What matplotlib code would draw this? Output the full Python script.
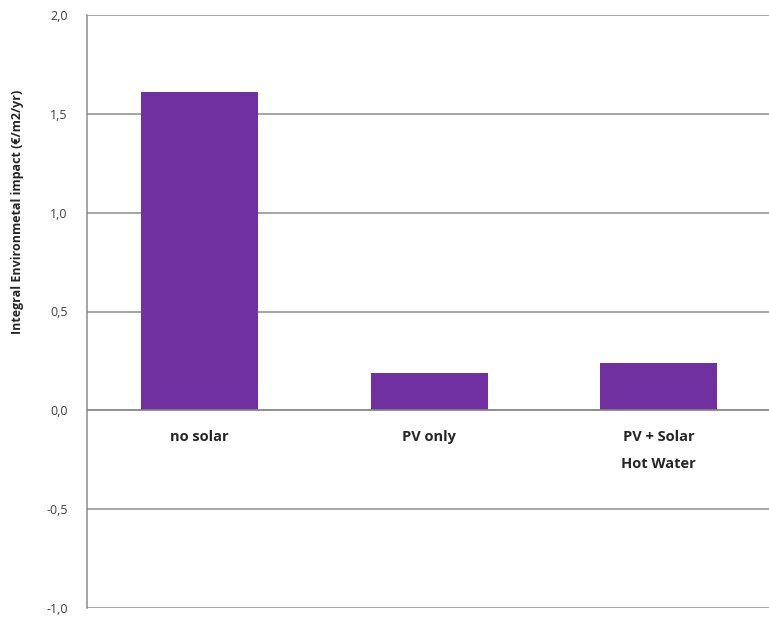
import matplotlib.pyplot as plt
import numpy as np

categories = ["no solar", "PV only", "PV + Solar\nHot Water"]
values = [1.61, 0.19, 0.24]
yticks = [-1.0, -0.5, 0.0, 0.5, 1.0, 1.5, 2.0]

plt.rcParams['font.family'] = ['Open Sans', 'DejaVu Sans']

fig = plt.figure(figsize=(7.69, 6.2), dpi=100)
ax = fig.add_axes([87 / 769, 12 / 620, 1 - 87 / 769, 593 / 620])

x = np.arange(len(categories))
ax.bar(x, values, width=0.51, color='#7030A0', zorder=3)

ax.set_ylim(-1.0, 2.0)
ax.set_xlim(-0.49, 2.48)
ax.set_yticks(yticks)
ax.set_yticklabels([f"{t:.1f}".replace('.', ',') for t in yticks],
                   fontsize=9, color='#404040')
ax.set_xticks([])
ax.tick_params(axis='y', length=0, pad=14)
ax.grid(axis='y', color='#8c8c8c', linewidth=1.1, zorder=0)
ax.axhline(0, color='#8c8c8c', linewidth=1.1, zorder=4)

for s in ['top', 'right', 'bottom']:
    ax.spines[s].set_visible(False)
ax.spines['left'].set_color('#8c8c8c')
ax.spines['left'].set_linewidth(1.1)

for xi, lab in zip(x, categories):
    ax.text(xi, -0.1, lab, ha='center', va='top', fontsize=10.5,
            fontweight='bold', color='#262626', linespacing=2.2)

fig.text(18 / 769, 1 - 212 / 620, "Integral Environmetal impact (€/m2/yr)",
         rotation=90, ha='center', va='center', fontsize=9,
         fontweight='bold', color='#262626')

fig.savefig("out.png", dpi=100)
